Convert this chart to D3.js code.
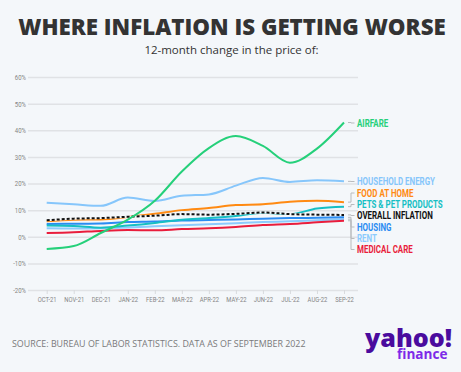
<!DOCTYPE html>
<meta charset="utf-8">
<style>
  body { margin: 0; background: #f4f7fa; }
  svg { display: block; }
  .grid line { stroke: #e0e2e5; stroke-width: 1.5px; }
  .grid text, .xaxis text { fill: #858585; font-family: Roboto, sans-serif; font-size: 7.5px; }
  .xaxis line { stroke: #d8dadd; }
  .line { fill: none; stroke-width: 2px; }
  .lbl { font-family: Roboto, sans-serif; font-weight: bold; font-size: 10px; }
</style>
<body>
<script src="https://d3js.org/d3.v7.min.js"></script>
<script>

// months on the x axis
var months = ["OCT-21", "NOV-21", "DEC-21", "JAN-22", "FEB-22", "MAR-22",
              "APR-22", "MAY-22", "JUN-22", "JUL-22", "AUG-22", "SEP-22"];

// 12-month % change
var airfare         = [-4.6, -3.5, 1.4, 6.4, 13.5, 24.5, 33.3, 37.8, 34.1, 27.8, 33.1, 42.9];
var householdEnergy = [12.8, 12.2, 11.6, 14.7, 13.4, 15.4, 15.9, 19.2, 22.1, 20.6, 21.2, 20.8];
var foodAtHome      = [5.8, 6.4, 6.5, 7.4, 8.6, 10.0, 10.8, 11.9, 12.2, 13.1, 13.5, 13.0];
var pets            = [4.2, 4.0, 3.4, 4.2, 5.2, 6.4, 7.0, 7.8, 9.0, 8.5, 10.6, 11.3];
var overall         = [6.2, 6.8, 7.0, 7.5, 7.9, 8.5, 8.3, 8.6, 9.1, 8.5, 8.3, 8.2];
var housing         = [4.8, 4.9, 5.0, 5.5, 5.7, 6.1, 6.3, 6.5, 6.8, 7.0, 7.1, 7.3];
var rent            = [3.2, 3.1, 3.2, 3.5, 3.9, 4.3, 4.7, 5.1, 5.5, 5.8, 6.2, 6.6];
var medical         = [1.4, 1.7, 2.2, 2.5, 2.4, 2.9, 3.2, 3.7, 4.4, 4.8, 5.4, 6.0];

var yTicks = [-20, -10, 0, 10, 20, 30, 40, 50, 60];

// series in drawing order, with label y position
var series = [
  {name: "HOUSEHOLD ENERGY", values: householdEnergy, color: "#86c6fb", ly: 181.5},
  {name: "RENT", values: rent, color: "#8ccbfd", ly: 238.5},
  {name: "MEDICAL CARE", values: medical, color: "#e91d3c", ly: 249.5},
  {name: "HOUSING", values: housing, color: "#2a8cf2", ly: 227},
  {name: "PETS & PET PRODUCTS", values: pets, color: "#16bfc4", ly: 204.5},
  {name: "FOOD AT HOME", values: foodAtHome, color: "#ff8a12", ly: 193},
  {name: "OVERALL INFLATION", values: overall, color: "#111", ly: 215.5, dashed: true},
  {name: "AIRFARE", values: airfare, color: "#25d07a", ly: 123}
];

var W = 461, H = 372;

var svg = d3.select("body").append("svg")
    .attr("width", W)
    .attr("height", H);

// squeeze text horizontally (no condensed font installed)
function condense(sel, f) {
  sel.each(function() {
    var len = this.getComputedTextLength();
    d3.select(this).attr("textLength", len * f).attr("lengthAdjust", "spacingAndGlyphs");
  });
}

// titles
svg.append("text")
    .attr("x", 232).attr("y", 34.5)
    .attr("text-anchor", "middle")
    .style("font-family", "'Open Sans', sans-serif")
    .style("font-weight", "800")
    .style("font-size", "22.3px")
    .attr("fill", "#333")
    .text("WHERE INFLATION IS GETTING WORSE");

svg.append("text")
    .attr("x", 231.5).attr("y", 54)
    .attr("text-anchor", "middle")
    .style("font-family", "'Open Sans', sans-serif")
    .style("font-size", "11.5px")
    .attr("fill", "#333")
    .text("12-month change in the price of:");

// scales
var x = d3.scalePoint().domain(months).range([46.7, 344]);
var y = d3.scaleLinear().domain([-20, 60]).range([290, 77]);

// gridlines + y labels
var gy = svg.append("g")
    .attr("class", "grid")
    .attr("transform", "translate(28,0)")
    .call(d3.axisLeft(y).tickValues(yTicks).tickSize(-330).tickPadding(2)
      .tickFormat(function(d) { return d + "%"; }));
gy.select(".domain").remove();
condense(gy.selectAll("text"), 0.8);

// x axis
var gx = svg.append("g")
    .attr("class", "xaxis")
    .attr("transform", "translate(0,290)")
    .call(d3.axisBottom(x).tickSize(4).tickPadding(3));
gx.select(".domain").remove();
condense(gx.selectAll("text"), 0.78);

var line = d3.line()
    .x(function(d, i) { return x(months[i]); })
    .y(function(d) { return y(d); })
    .curve(d3.curveMonotoneX);

series.forEach(function(s) {
  if (s.dashed) {
    svg.append("path")
      .attr("class", "line")
      .attr("d", line(s.values))
      .attr("stroke", "#f4f7fa")
      .attr("stroke-width", 2.5);
    svg.append("path")
      .attr("class", "line")
      .attr("d", line(s.values))
      .attr("stroke", s.color)
      .attr("stroke-dasharray", "3,2");
  } else {
    svg.append("path")
      .attr("class", "line")
      .attr("d", line(s.values))
      .attr("stroke", s.color);
  }
});

// connectors and labels
var xb = 351;
var labels = [];
series.forEach(function(s) {
  var ye = y(s.values[s.values.length - 1]);
  svg.append("path")
    .attr("d", "M" + (x("SEP-22") + 4) + "," + ye + "H" + xb + "V" + s.ly + "H" + (xb + 3.5))
    .attr("fill", "none")
    .attr("stroke", "#b9bbbe")
    .attr("stroke-width", 1);
  labels.push(svg.append("text")
    .attr("class", "lbl")
    .attr("x", 357)
    .attr("y", s.ly)
    .attr("dy", "0.35em")
    .attr("fill", s.color)
    .text(s.name).node());
});
// make HOUSEHOLD ENERGY about 78px wide, others follow
var f = 78 / labels[0].getComputedTextLength();
condense(d3.selectAll(labels), f);

// source
svg.append("text")
    .attr("x", 12).attr("y", 347)
    .style("font-family", "'Open Sans', sans-serif")
    .style("font-size", "8.9px")
    .attr("fill", "#7a7a7a")
    .text("SOURCE: BUREAU OF LABOR STATISTICS. DATA AS OF SEPTEMBER 2022");

// logo
svg.append("text")
    .attr("x", 365).attr("y", 347)
    .attr("textLength", 87)
    .attr("lengthAdjust", "spacingAndGlyphs")
    .style("font-family", "'Open Sans', sans-serif")
    .style("font-weight", "800")
    .style("font-size", "24px")
    .attr("fill", "#4a0b9e")
    .text("yahoo!");

svg.append("text")
    .attr("x", 397).attr("y", 358.5)
    .attr("textLength", 50.5)
    .attr("lengthAdjust", "spacingAndGlyphs")
    .style("font-family", "'Open Sans', sans-serif")
    .style("font-weight", "700")
    .style("font-size", "13.5px")
    .attr("fill", "#7d2ae8")
    .text("finance");

</script>
</body>
